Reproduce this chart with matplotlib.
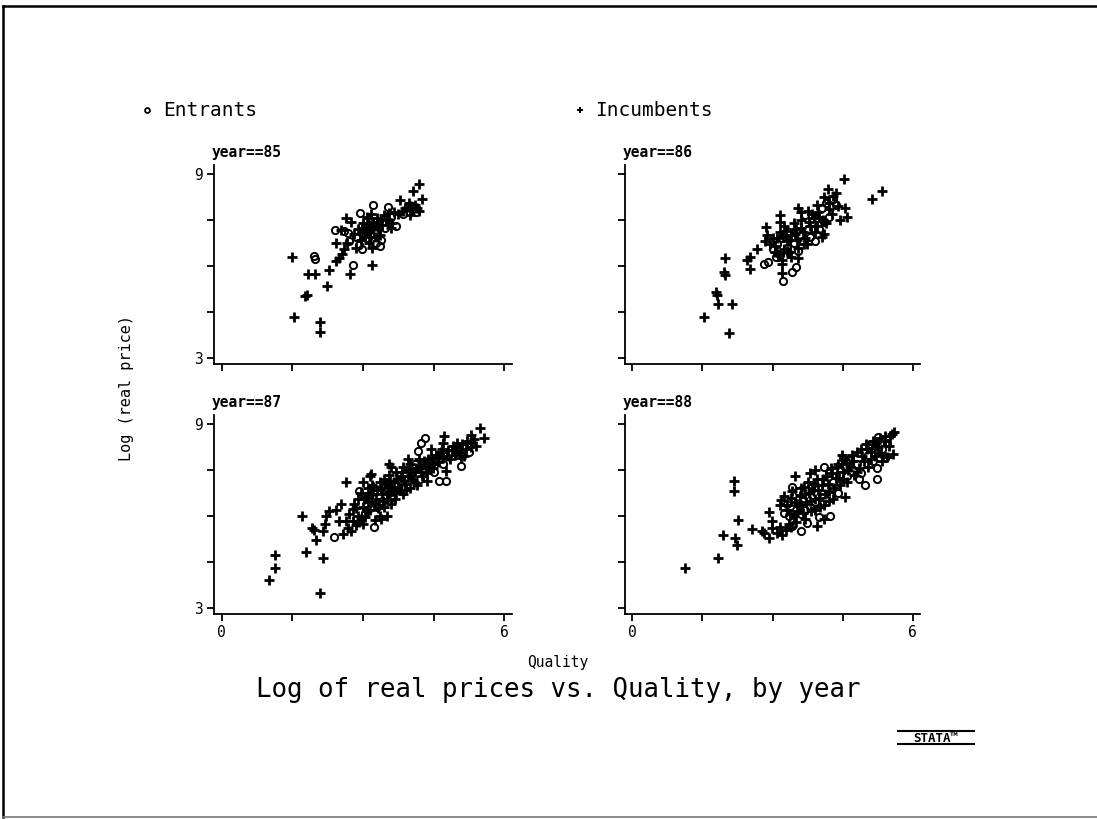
import matplotlib
matplotlib.use("Agg")
import matplotlib.pyplot as plt
from matplotlib.lines import Line2D

plt.rcParams['font.family'] = ['DejaVu Sans Mono', 'DejaVu Sans']

W, H = 1097, 819

# ---------------- data (quality, log real price) ----------------
ent85_x = [1.97, 1.99, 2.41, 2.68, 2.79, 2.94, 2.92, 2.97, 3.21, 3.52, 3.46, 3.71, 3.84, 3.98, 4.05,
           3.05, 3.15, 3.30, 3.38, 3.35, 3.10, 2.85, 3.25, 3.60, 4.12, 2.70, 3.00, 3.55,
           3.18, 3.28, 2.60]
ent85_y = [6.32, 6.21, 7.16, 7.09, 6.03, 7.74, 6.67, 6.54, 7.99, 7.93, 7.23, 7.30, 7.69, 7.91, 7.85,
           7.30, 7.05, 7.10, 6.85, 6.65, 6.90, 6.95, 7.45, 7.60, 7.75, 6.80, 7.00, 7.45,
           7.25, 6.75, 7.15]
inc85_x = [1.50, 1.53, 1.84, 1.99, 1.76, 1.81, 2.08, 2.08, 2.24, 2.27, 2.43, 2.43, 2.54, 2.64, 2.75,
           2.72, 3.19, 3.56, 3.79, 3.97, 4.18, 4.07, 4.25, 4.19, 2.55, 2.60, 2.50, 2.66, 2.80, 2.90,
           3.00, 3.10, 3.05, 3.15, 3.20, 3.25, 3.30, 3.40, 3.45, 3.50, 3.65, 3.75, 3.90, 4.00, 4.10,
           4.15, 3.35, 3.12, 3.20, 2.95, 2.85, 3.08, 3.18, 3.60,
           3.02, 3.12, 3.22, 3.28, 3.05, 3.15, 2.98, 3.32, 3.38, 3.62, 4.02, 3.85]
inc85_y = [6.29, 4.33, 5.75, 5.75, 5.01, 5.06, 4.17, 3.83, 5.33, 5.85, 6.16, 6.76, 7.16, 7.55, 7.42,
           5.75, 6.04, 7.74, 8.16, 8.07, 8.69, 8.45, 8.18, 7.80, 6.40, 6.55, 6.25, 6.75, 7.05, 7.20,
           7.40, 7.55, 7.15, 7.35, 7.20, 6.95, 7.55, 7.35, 7.65, 7.50, 7.75, 7.70, 7.90, 7.65, 8.00,
           7.90, 7.00, 6.75, 6.60, 6.85, 6.60, 7.60, 7.70, 7.25,
           7.25, 7.10, 7.45, 7.30, 6.95, 6.95, 7.10, 7.20, 7.50, 7.40, 7.95, 7.80]

ent86_x = [2.81, 2.90, 3.08, 3.23, 3.42, 3.50, 3.00, 3.10, 3.30, 3.45, 3.60, 3.75, 3.85, 3.95, 4.05,
           4.15, 4.25, 4.35, 3.80, 3.90, 3.70, 4.00, 3.20, 3.35, 4.30,
           3.55, 3.65, 4.10, 4.20, 3.15]
ent86_y = [6.05, 6.12, 6.28, 5.50, 5.80, 5.96, 6.55, 6.70, 6.60, 6.75, 7.00, 7.20, 7.45, 7.55, 7.90,
           8.05, 8.15, 8.00, 6.95, 6.80, 7.65, 7.20, 6.90, 7.10, 8.20,
           6.50, 6.80, 7.45, 7.60, 6.35]
inc86_x = [1.54, 2.06, 1.83, 1.78, 1.81, 2.13, 1.98, 1.96, 1.99, 2.46, 2.51, 2.51, 2.66, 2.86, 2.83,
           2.88, 3.21, 3.21, 3.55, 3.17, 3.55, 3.74, 4.19, 4.53, 4.56, 4.60, 4.45, 5.14, 5.35, 2.95,
           3.05, 3.10, 3.15, 3.25, 3.30, 3.35, 3.40, 3.45, 3.50, 3.55, 3.60, 3.65, 3.70, 3.80, 3.85,
           3.90, 3.95, 4.00, 4.05, 4.10, 4.15, 4.20, 4.30, 4.40, 4.35, 3.15, 3.25, 3.40, 3.00, 3.95,
           4.10, 3.75, 3.60,
           3.05, 3.12, 3.22, 3.28, 3.38, 3.48, 3.52, 3.62, 3.68, 3.78, 3.88, 3.98, 4.08, 4.22, 4.28,
           3.20, 3.32]
inc86_y = [4.34, 3.82, 4.76, 5.14, 5.06, 4.74, 6.26, 5.80, 5.69, 6.18, 6.29, 5.89, 6.54, 7.27, 6.80,
           7.00, 5.78, 6.07, 6.26, 7.66, 7.90, 6.73, 8.50, 8.85, 7.90, 7.60, 7.51, 8.18, 8.45, 6.70,
           6.45, 6.90, 7.10, 7.30, 6.80, 6.45, 7.00, 7.40, 7.20, 6.60, 7.50, 7.10, 6.90, 7.30, 7.70,
           7.10, 8.00, 7.60, 6.95, 8.25, 7.40, 7.85, 8.30, 7.95, 8.40, 7.45, 6.55, 6.30, 6.90, 7.30,
           7.05, 7.80, 7.75,
           6.65, 6.40, 6.95, 7.15, 6.85, 7.05, 6.85, 7.25, 6.70, 7.45, 7.55, 7.75, 7.50, 8.05, 7.70,
           6.20, 6.50]

ent87_x = [2.38, 2.92, 3.24, 4.32, 4.23, 4.16, 4.62, 4.75, 5.08, 3.05, 3.30, 3.50, 3.70, 3.90, 4.05,
           4.20, 4.40, 4.60, 4.85, 5.00, 5.15, 3.60, 3.80, 4.10, 4.50, 5.25, 3.40,
           3.55, 3.75, 4.25, 4.70, 4.95, 3.15]
ent87_y = [5.30, 6.82, 5.65, 8.55, 8.39, 8.12, 7.14, 7.14, 7.63, 6.10, 6.30, 6.90, 7.00, 7.40, 7.55,
           7.20, 7.80, 7.95, 8.05, 8.20, 8.30, 6.60, 7.15, 7.70, 7.45, 8.10, 6.50,
           6.75, 6.85, 7.50, 7.70, 8.10, 6.70]
inc87_x = [1.00, 1.14, 1.14, 2.08, 1.70, 1.79, 2.15, 2.01, 1.92, 1.97, 2.15, 2.20, 2.22, 2.27, 2.43,
           2.54, 2.57, 2.50, 2.64, 2.78, 2.64, 2.78, 3.01, 3.18, 3.56, 4.72, 4.69, 5.29, 5.49, 5.57,
           4.76, 2.68, 2.75, 2.85, 2.90, 2.95, 3.00, 3.05, 3.10, 3.10, 3.15, 3.20, 3.20, 3.25, 3.30,
           3.35, 3.35, 3.40, 3.45, 3.45, 3.50, 3.55, 3.55, 3.60, 3.65, 3.70, 3.70, 3.75, 3.80, 3.85,
           3.85, 3.90, 3.95, 4.00, 4.00, 4.05, 4.10, 4.15, 4.20, 4.25, 4.30, 4.35, 4.40, 4.45, 4.50,
           4.55, 4.60, 4.65, 4.70, 4.80, 4.85, 4.90, 4.95, 5.00, 5.05, 5.10, 5.15, 5.20, 5.30, 5.35,
           5.40, 3.15, 2.90, 3.00, 3.25, 3.50, 2.80, 3.60, 3.95, 4.45, 4.35,
           3.02, 3.08, 3.12, 3.18, 3.22, 3.28, 3.32, 3.38, 3.42, 3.48, 3.52, 3.58, 3.62, 3.68, 3.72,
           3.78, 3.82, 3.88, 3.92, 3.98, 4.02, 4.08, 4.12, 4.18, 4.22, 4.28, 4.38, 4.48, 4.58, 4.68,
           4.78, 4.88, 4.98, 5.08, 5.18, 5.28, 2.70, 2.85, 2.95, 3.05, 2.92, 3.38]
inc87_y = [3.91, 4.73, 4.30, 3.47, 6.00, 4.81, 4.63, 5.21, 5.60, 5.54, 5.51, 5.73, 6.00, 6.17, 6.19,
           6.38, 5.41, 5.82, 5.82, 5.84, 7.11, 6.22, 7.12, 7.38, 7.71, 8.61, 8.39, 8.63, 8.86, 8.55,
           7.47, 5.60, 5.50, 5.70, 6.00, 5.90, 6.30, 6.60, 6.45, 6.90, 6.20, 6.70, 7.00, 6.40, 6.85,
           7.10, 6.00, 6.70, 6.30, 7.20, 6.55, 6.95, 7.35, 6.40, 7.10, 6.75, 7.45, 6.95, 7.30, 6.70,
           7.60, 7.05, 7.30, 6.90, 7.70, 7.20, 7.45, 7.00, 7.60, 7.30, 7.80, 7.40, 7.60, 7.90, 7.70,
           8.00, 7.75, 8.10, 7.90, 8.15, 7.85, 8.30, 8.00, 8.40, 8.10, 8.35, 7.95, 8.45, 8.25, 8.50,
           8.30, 7.30, 6.55, 5.75, 5.85, 6.00, 6.40, 7.60, 7.85, 8.20, 7.15,
           6.55, 6.15, 6.75, 6.45, 6.95, 6.55, 6.25, 6.90, 6.50, 7.05, 6.75, 7.15, 6.85, 6.55, 7.20,
           6.85, 7.45, 7.15, 6.85, 7.50, 7.35, 7.10, 7.55, 7.85, 7.45, 7.65, 7.85, 7.55, 7.95, 8.20,
           7.95, 8.15, 8.25, 7.90, 8.20, 8.40, 6.05, 6.25, 6.75, 5.95, 5.80, 5.90]

ent88_x = [3.42, 3.35, 3.42, 3.60, 3.74, 4.24, 4.99, 5.24, 5.24, 5.27, 4.67, 3.30, 3.50, 3.65, 3.80,
           3.95, 4.05, 4.15, 4.30, 4.40, 4.20, 4.60, 4.80, 4.90, 5.05, 5.15, 5.35, 5.40, 5.45, 3.55,
           3.85, 4.10, 4.50, 5.10, 3.25, 4.00,
           3.45, 3.70, 3.90, 4.25, 4.55, 4.85, 5.30, 5.20, 3.60, 4.45]
ent88_y = [6.95, 5.98, 5.66, 5.52, 5.76, 5.98, 7.01, 7.22, 7.55, 8.58, 7.82, 6.40, 6.20, 6.50, 6.30,
           6.70, 6.40, 6.90, 7.10, 6.75, 7.40, 7.30, 7.70, 7.40, 8.00, 7.80, 8.20, 7.90, 8.40, 6.80,
           7.00, 7.60, 7.90, 8.35, 6.10, 5.95,
           6.45, 6.20, 6.45, 6.65, 7.60, 7.20, 7.90, 8.30, 6.05, 7.35]
inc88_x = [1.13, 1.83, 1.93, 2.17, 2.17, 2.26, 2.19, 2.24, 2.56, 2.78, 2.81, 2.93, 2.92, 2.99, 2.99,
           3.10, 3.21, 3.17, 3.19, 3.49, 3.81, 3.92, 3.95, 5.60, 5.56, 5.58, 5.45, 4.49, 4.56, 3.30,
           3.40, 3.45, 3.55, 3.60, 3.65, 3.70, 3.75, 3.80, 3.85, 3.90, 3.95, 4.00, 4.05, 4.10, 4.15,
           4.20, 4.25, 4.30, 4.35, 4.40, 4.45, 4.50, 4.55, 4.60, 4.65, 4.70, 4.75, 4.80, 4.85, 4.90,
           4.95, 5.00, 5.05, 5.10, 5.15, 5.20, 5.25, 5.30, 5.35, 5.40, 5.50, 3.35, 3.50, 3.70, 3.25,
           4.10,
           3.32, 3.38, 3.42, 3.48, 3.52, 3.58, 3.62, 3.68, 3.72, 3.78, 3.82, 3.88, 3.92, 3.98, 4.02,
           4.08, 4.12, 4.18, 4.22, 4.28, 4.32, 4.38, 4.42, 4.48, 4.52, 4.62, 4.72, 4.82, 4.92, 5.02,
           5.12, 5.22, 5.32, 5.42, 5.52, 3.28, 3.15, 3.40]
inc88_y = [4.30, 4.63, 5.36, 7.15, 6.81, 5.87, 5.28, 5.06, 5.58, 5.49, 5.44, 5.28, 6.14, 5.82, 5.60,
           5.44, 5.39, 6.36, 6.52, 7.31, 7.39, 7.50, 5.66, 8.74, 8.69, 8.04, 7.93, 7.98, 6.63, 6.20,
           6.60, 6.00, 6.40, 6.90, 6.10, 6.70, 7.10, 6.50, 6.85, 6.20, 7.20, 6.60, 7.00, 6.35, 7.30,
           6.80, 7.55, 6.55, 7.25, 7.70, 7.00, 7.45, 7.85, 7.10, 7.60, 8.00, 7.35, 8.10, 7.55, 8.20,
           7.80, 8.35, 7.60, 8.10, 8.45, 7.95, 8.25, 8.55, 7.80, 8.60, 8.30, 5.75, 5.80, 5.90, 6.65,
           5.90,
           6.35, 6.05, 6.80, 6.45, 6.15, 6.65, 6.35, 6.95, 6.45, 6.75, 6.15, 7.05, 6.55, 6.85, 6.30,
           7.20, 6.70, 7.05, 6.50, 7.40, 6.90, 7.60, 7.25, 7.70, 7.20, 7.50, 7.80, 7.45, 7.95, 8.20,
           7.85, 8.40, 8.05, 8.45, 8.60, 5.55, 5.65, 5.65]

panels = [
    ("year==85", ent85_x, ent85_y, inc85_x, inc85_y),
    ("year==86", ent86_x, ent86_y, inc86_x, inc86_y),
    ("year==87", ent87_x, ent87_y, inc87_x, inc87_y),
    ("year==88", ent88_x, ent88_y, inc88_x, inc88_y),
]
xticks = [0, 1.5, 3, 4.5, 6]
yticks = [3, 4.5, 6, 7.5, 9]
legend_labels = ["Entrants", "Incumbents"]
title_text = "Log of real prices vs. Quality, by year"
xlabel_text = "Quality"
ylabel_text = "Log (real price)"

# ---------------- figure ----------------
fig = plt.figure(figsize=(W / 100, H / 100), dpi=100)
fig.patch.set_facecolor("white")

def fx(px):
    return px / W

def fy(py):
    return 1 - py / H

# panel boxes in pixel coordinates: (left, top, right, bottom)
boxes = [(214, 165, 512, 364), (625, 165, 920, 364),
         (214, 415, 512, 614), (625, 415, 920, 614)]

for i, (box, (ttl, ex, ey, ix, iy)) in enumerate(zip(boxes, panels)):
    l, t, r, b = box
    ax = fig.add_axes([fx(l), fy(b), fx(r) - fx(l), fy(t) - fy(b)])
    ax.set_xlim(-0.16, 6.16)
    ax.set_ylim(2.79, 9.3)
    for s in ("top", "right"):
        ax.spines[s].set_visible(False)
    for s in ("left", "bottom"):
        ax.spines[s].set_linewidth(1.3)
    ax.plot(ix, iy, linestyle="none", marker="+", ms=7, mew=2.0, color="black")
    ax.plot(ex, ey, linestyle="none", marker="o", ms=5.2, mew=1.4,
            mfc="none", mec="black")
    ax.set_xticks(xticks)
    ax.set_yticks(yticks)
    ax.tick_params(axis="both", direction="out", length=5, width=1.3, labelsize=10.5, pad=3)
    left = i % 2 == 0
    bottom = i >= 2
    ax.set_yticklabels(["3", "", "", "", "9"] if left else [""] * 5)
    ax.set_xticklabels(["0", "", "", "", "6"] if bottom else [""] * 5)
    fig.text(fx(l - 2), fy(t - 12), ttl, fontsize=10.5, fontweight="bold",
             ha="left", va="center")

# legend
fig.lines.append(Line2D([fx(147)], [fy(110)], marker="o", ms=3.5, mew=1.3, mfc="none",
                        mec="black", linestyle="none", transform=fig.transFigure))
fig.text(fx(163), fy(110), legend_labels[0], fontsize=14, ha="left", va="center")
fig.lines.append(Line2D([fx(580)], [fy(110)], marker="+", ms=5, mew=1.4, color="black",
                        linestyle="none", transform=fig.transFigure))
fig.text(fx(595), fy(110), legend_labels[1], fontsize=14, ha="left", va="center")

# axis labels and title
fig.text(fx(126), fy(388), ylabel_text, fontsize=11, rotation=90, ha="center", va="center")
fig.text(fx(558), fy(662), xlabel_text, fontsize=10.5, ha="center", va="center")
fig.text(fx(558), fy(690), title_text, fontsize=18.5, ha="center", va="center")

# Stata logo
fig.text(fx(936), fy(738), "STATA\u2122", fontsize=9, fontweight="bold",
         ha="center", va="center")
fig.lines.append(Line2D([fx(898), fx(974)], [fy(731), fy(731)], color="black", lw=1.5,
                        transform=fig.transFigure))
fig.lines.append(Line2D([fx(898), fx(974)], [fy(744), fy(744)], color="black", lw=1.5,
                        transform=fig.transFigure))

# outer frame (top, left, bottom)
fig.lines.append(Line2D([fx(3), fx(1097)], [fy(6), fy(6)], color="black", lw=1.8,
                        transform=fig.transFigure))
fig.lines.append(Line2D([fx(3), fx(3)], [fy(6), fy(817)], color="black", lw=1.8,
                        transform=fig.transFigure))
fig.lines.append(Line2D([fx(3), fx(1097)], [fy(817), fy(817)], color="#777777", lw=1.2,
                        transform=fig.transFigure))

fig.savefig("out.png", dpi=100, facecolor="white")
